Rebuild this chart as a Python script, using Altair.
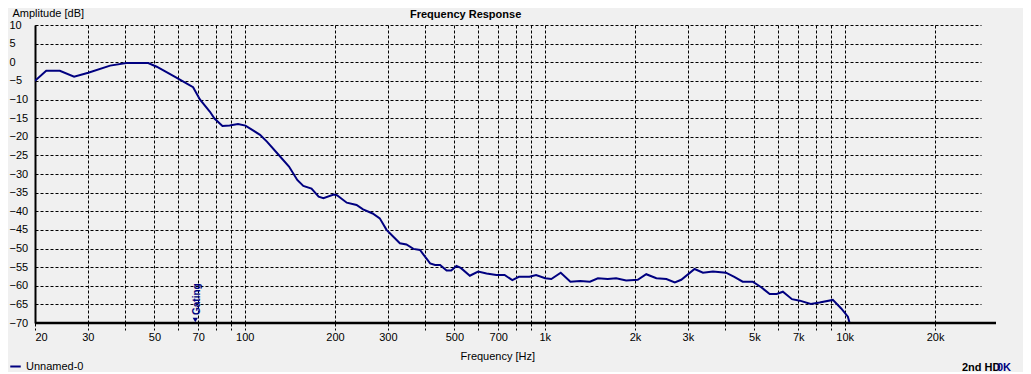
import altair as alt
import pandas as pd

# ---- data ----
freq_hz = [20, 21.8, 24.2, 27.0, 30.1, 35.6, 40.3, 47.7, 50.9, 59.2, 67.3, 70.9, 76.6, 79.3,
           84.3, 89.1, 95, 100.6, 112.5, 118.6, 129.9, 140.5, 149.7, 156.8, 167, 176.4, 183,
           197.9, 203, 218.9, 236, 248, 267, 282, 297, 329, 346, 365, 384, 399, 415, 431, 448,
           471, 488, 508, 525, 563, 600, 640, 690, 735, 780, 820, 890, 936, 1004, 1052, 1131,
           1218, 1314, 1415, 1504, 1622, 1730, 1869, 2042, 2180, 2356, 2544, 2714, 2852, 3159,
           3369, 3637, 4019, 4284, 4570, 4937, 5268, 5621, 5934, 6221, 6671, 7086, 7703, 8245,
           9128, 9733, 10246, 10380]
amp_db = [-5.0, -2.3, -2.3, -3.9, -2.8, -0.9, -0.2, -0.2, -1.2, -4.1, -6.7, -10.0, -13.3, -15.1,
          -17.1, -17.0, -16.6, -17.0, -19.5, -21.3, -24.9, -28.0, -31.6, -33.2, -33.9, -36.1, -36.5,
          -35.5, -35.7, -37.7, -38.3, -39.5, -40.6, -41.9, -45.0, -48.6, -48.9, -50.1, -50.4, -52.2,
          -54.0, -54.4, -54.4, -55.9, -55.9, -54.7, -55.2, -57.3, -56.2, -56.7, -57.1, -57.1, -58.5,
          -57.6, -57.6, -57.1, -58.0, -58.2, -56.5, -58.9, -58.7, -58.9, -58.0, -58.2, -58.0, -58.6,
          -58.4, -56.9, -58.0, -58.2, -59.1, -58.4, -55.5, -56.5, -56.2, -56.5, -57.6, -58.9, -58.9,
          -60.4, -62.2, -62.2, -61.6, -63.6, -64.0, -64.9, -64.5, -63.8, -66.1, -68.3, -70.0]
series_name = ["Unnamed-0"]

x_grid_values = [20, 30, 40, 50, 60, 70, 80, 90, 100, 200, 300, 400, 500, 600, 700, 800, 900,
                 1000, 2000, 3000, 4000, 5000, 6000, 7000, 8000, 9000, 10000, 20000]
x_label_values = [20, 30, 50, 70, 100, 200, 300, 500, 700, 1000, 2000, 3000, 5000, 7000, 10000, 20000]
y_tick_values = list(range(-70, 11, 5))

gating_freq = [69.5]
gating_db = [-70]

FONT = "Liberation Sans"
NAVY = "#000080"
BG = "#f0f0f0"

df = pd.DataFrame({"freq": freq_hz, "amp": amp_db, "series": series_name * len(freq_hz)})

x_scale = alt.Scale(type="log", domain=[20, 28460], nice=False)
y_scale = alt.Scale(domain=[-70, 10], nice=False)

label_list = ",".join(str(v) for v in x_label_values)
label_expr = (f"indexof([{label_list}], datum.value) >= 0 ? "
              "(datum.value >= 1000 ? (datum.value/1000) + 'k' : '' + datum.value) : ''")

x_axis = alt.Axis(values=x_grid_values, labelExpr=label_expr, grid=True, gridColor="black",
                  gridDash=[3, 2], gridOpacity=1, gridWidth=1, domain=False,
                  ticks=True, tickSize=7, tickDash=[3, 2], tickColor="black", tickWidth=1,
                  labelPadding=1, labelFontSize=11, labelFont=FONT, labelColor="black",
                  labelOverlap=False, labelFlush=True, labelBound=False,
                  title="Frequency [Hz]", titleFont=FONT, titleFontSize=11,
                  titleFontWeight="normal", titleColor="black", titleAlign="left",
                  titleX=425, titleY=36, titleBaseline="alphabetic", titleAnchor="start")

y_axis = alt.Axis(values=y_tick_values, grid=True, gridColor="black", gridDash=[3, 2],
                  gridOpacity=1, gridWidth=1, domain=True, domainColor="black", domainWidth=2,
                  ticks=False, tickSize=0, labelAlign="left", labelPadding=26,
                  labelFontSize=11, labelFont=FONT, labelColor="black", labelOverlap=False,
                  labelBound=False, labelFlush=False,
                  title="Amplitude [dB]", titleFont=FONT, titleFontSize=11,
                  titleFontWeight="normal", titleColor="black", titleAngle=0,
                  titleAlign="left", titleBaseline="alphabetic", titleX=-23, titleY=-9)


def X(field="freq:Q"):
    return alt.X(field, scale=x_scale, axis=x_axis)


def Y(field="amp:Q"):
    return alt.Y(field, scale=y_scale, axis=y_axis)


line = alt.Chart(df).mark_line(strokeWidth=2, clip=True).encode(
    x=X(), y=Y(),
    color=alt.Color("series:N", scale=alt.Scale(range=[NAVY]),
                    legend=alt.Legend(orient="none", legendX=-26, legendY=335, title=None,
                                      symbolType="stroke", symbolSize=110,
                                      symbolStrokeWidth=2, labelFontSize=11, labelFont=FONT,
                                      labelColor="black", padding=0, labelOffset=4)),
)

# bottom axis line (extends a little past the grid, as in the reference)
axis_df = pd.DataFrame({"k": [0]})
bottom_line = alt.Chart(axis_df).mark_rule(color="black", strokeWidth=2.5).encode(
    x=alt.value(0), x2=alt.value(961), y=alt.value(298))

gate_df = pd.DataFrame({"freq": gating_freq, "amp": gating_db, "label": ["Gating"]})
gate_text = alt.Chart(gate_df).mark_text(angle=270, align="left", baseline="middle", dx=8,
                                         font=FONT, fontSize=10, fontWeight="bold",
                                         color=NAVY).encode(x=X(), y=Y(), text="label:N")
gate_tri = alt.Chart(gate_df).mark_point(shape="triangle-down", filled=True, size=28,
                                         color=NAVY, opacity=1, yOffset=-3,
                                         xOffset=-2).encode(x=X(), y=Y())

title_df = pd.DataFrame({"t": ["Frequency Response"]})
title_text = alt.Chart(title_df).mark_text(align="left", baseline="alphabetic", font=FONT,
                                           fontSize=11, fontWeight="bold",
                                           color="black").encode(
    x=alt.value(375), y=alt.value(-7), text="t:N")

hd_df = pd.DataFrame({"t": ["2nd HD"]})
hd_text = alt.Chart(hd_df).mark_text(align="left", baseline="alphabetic", font=FONT,
                                     fontSize=11, fontWeight="bold", color="black").encode(
    x=alt.value(927), y=alt.value(346), text="t:N")
ok_df = pd.DataFrame({"t": ["0K"]})
ok_text = alt.Chart(ok_df).mark_text(align="left", baseline="alphabetic", font=FONT,
                                     fontSize=11, fontWeight="bold", color=NAVY).encode(
    x=alt.value(962), y=alt.value(346), text="t:N")

chart = alt.layer(line, bottom_line, gate_text, gate_tri, title_text, hd_text,
                  ok_text).properties(
    width=946, height=298,
    autosize=alt.AutoSizeParams(type="none"),
    padding={"left": 27, "top": 17, "right": 42, "bottom": 49},
    background=BG,
).configure_view(stroke=None, fill=BG)

chart.save("out.html", embed_options={"renderer": "svg", "actions": False})
